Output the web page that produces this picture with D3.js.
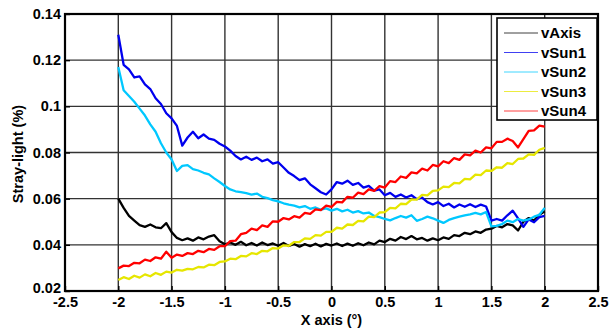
<!DOCTYPE html>
<html><head><meta charset="utf-8">
<script src="https://cdn.jsdelivr.net/npm/d3@7"></script>
<style>body{margin:0;background:#fff}svg{display:block}</style>
</head><body><svg id="c" width="613" height="332"></svg>
<script>
const xs = [-2.00,-1.95,-1.90,-1.85,-1.80,-1.75,-1.70,-1.65,-1.60,-1.55,-1.50,-1.45,-1.40,-1.35,-1.30,-1.25,-1.20,-1.15,-1.10,-1.05,-1.00,-0.95,-0.90,-0.85,-0.80,-0.75,-0.70,-0.65,-0.60,-0.55,-0.50,-0.45,-0.40,-0.35,-0.30,-0.25,-0.20,-0.15,-0.10,-0.05,0.00,0.05,0.10,0.15,0.20,0.25,0.30,0.35,0.40,0.45,0.50,0.55,0.60,0.65,0.70,0.75,0.80,0.85,0.90,0.95,1.00,1.05,1.10,1.15,1.20,1.25,1.30,1.35,1.40,1.45,1.50,1.55,1.60,1.65,1.70,1.75,1.80,1.85,1.90,1.95,2.00];
const vAxis = [0.0600,0.0560,0.0525,0.0505,0.0485,0.0478,0.0488,0.0476,0.0472,0.0494,0.0455,0.0430,0.0420,0.0428,0.0418,0.0432,0.0424,0.0436,0.0442,0.0415,0.0402,0.0410,0.0400,0.0413,0.0398,0.0408,0.0397,0.0410,0.0399,0.0406,0.0396,0.0408,0.0395,0.0404,0.0392,0.0403,0.0394,0.0405,0.0393,0.0404,0.0397,0.0406,0.0395,0.0405,0.0396,0.0407,0.0398,0.0410,0.0402,0.0418,0.0412,0.0426,0.0418,0.0434,0.0425,0.0438,0.0424,0.0430,0.0418,0.0428,0.0420,0.0432,0.0426,0.0442,0.0438,0.0452,0.0446,0.0458,0.0452,0.0466,0.0470,0.0482,0.0476,0.0490,0.0484,0.0462,0.0500,0.0516,0.0505,0.0530,0.0545];
const vSun1 = [0.1310,0.1180,0.1160,0.1125,0.1130,0.1095,0.1075,0.1035,0.1010,0.0970,0.0948,0.0915,0.0830,0.0865,0.0890,0.0862,0.0878,0.0860,0.0855,0.0838,0.0826,0.0808,0.0785,0.0770,0.0782,0.0768,0.0778,0.0762,0.0770,0.0752,0.0758,0.0735,0.0712,0.0698,0.0680,0.0688,0.0662,0.0645,0.0628,0.0618,0.0640,0.0672,0.0665,0.0678,0.0660,0.0668,0.0648,0.0655,0.0635,0.0640,0.0615,0.0625,0.0608,0.0618,0.0605,0.0615,0.0598,0.0605,0.0585,0.0575,0.0585,0.0568,0.0578,0.0562,0.0575,0.0565,0.0576,0.0564,0.0574,0.0566,0.0505,0.0512,0.0505,0.0528,0.0548,0.0515,0.0478,0.0510,0.0498,0.0520,0.0525];
const vSun2 = [0.1170,0.1070,0.1045,0.1020,0.0990,0.0960,0.0922,0.0890,0.0840,0.0800,0.0770,0.0720,0.0742,0.0745,0.0728,0.0722,0.0712,0.0705,0.0688,0.0672,0.0655,0.0640,0.0632,0.0628,0.0624,0.0618,0.0622,0.0608,0.0602,0.0594,0.0588,0.0580,0.0574,0.0570,0.0562,0.0568,0.0556,0.0562,0.0552,0.0558,0.0548,0.0556,0.0545,0.0552,0.0540,0.0546,0.0536,0.0540,0.0525,0.0520,0.0512,0.0506,0.0516,0.0525,0.0518,0.0528,0.0504,0.0512,0.0522,0.0515,0.0505,0.0495,0.0508,0.0516,0.0522,0.0528,0.0532,0.0538,0.0532,0.0542,0.0480,0.0482,0.0490,0.0505,0.0498,0.0512,0.0505,0.0510,0.0522,0.0530,0.0560];
const vSun3 = [0.0248,0.0260,0.0252,0.0266,0.0258,0.0272,0.0264,0.0278,0.0270,0.0284,0.0280,0.0292,0.0288,0.0296,0.0294,0.0304,0.0302,0.0314,0.0312,0.0326,0.0328,0.0340,0.0338,0.0352,0.0350,0.0364,0.0360,0.0374,0.0372,0.0386,0.0384,0.0398,0.0396,0.0412,0.0412,0.0428,0.0426,0.0442,0.0440,0.0456,0.0456,0.0474,0.0470,0.0488,0.0486,0.0504,0.0502,0.0522,0.0520,0.0540,0.0542,0.0560,0.0558,0.0578,0.0576,0.0596,0.0596,0.0616,0.0614,0.0634,0.0636,0.0652,0.0650,0.0668,0.0666,0.0686,0.0684,0.0704,0.0702,0.0722,0.0720,0.0736,0.0734,0.0754,0.0750,0.0772,0.0774,0.0792,0.0790,0.0812,0.0820];
const vSun4 = [0.0298,0.0310,0.0308,0.0322,0.0320,0.0336,0.0330,0.0346,0.0340,0.0370,0.0344,0.0358,0.0352,0.0364,0.0360,0.0374,0.0368,0.0382,0.0378,0.0394,0.0394,0.0416,0.0418,0.0446,0.0452,0.0470,0.0464,0.0484,0.0478,0.0502,0.0500,0.0516,0.0510,0.0524,0.0518,0.0538,0.0534,0.0554,0.0550,0.0570,0.0564,0.0586,0.0584,0.0608,0.0604,0.0626,0.0620,0.0640,0.0634,0.0654,0.0648,0.0676,0.0672,0.0696,0.0690,0.0714,0.0710,0.0730,0.0722,0.0746,0.0740,0.0762,0.0754,0.0776,0.0768,0.0792,0.0788,0.0808,0.0800,0.0822,0.0818,0.0846,0.0846,0.0860,0.0850,0.0822,0.0858,0.0894,0.0896,0.0916,0.0912];
const seriesNames = ["vAxis","vSun1","vSun2","vSun3","vSun4"];
const seriesColors = ["#000000","#0000ee","#00c8ff","#e6e600","#ff0000"];
const xTicks = [-2.5,-2,-1.5,-1,-0.5,0,0.5,1,1.5,2,2.5];
const yTicks = [0.02,0.04,0.06,0.08,0.1,0.12,0.14];

const series = [vAxis,vSun1,vSun2,vSun3,vSun4];
const L=65,T=14,R=598,B=291;
const FONT="'Liberation Sans', Arial, Helvetica, sans-serif";
const svg=d3.select("#c");
const x=d3.scaleLinear().domain([-2.5,2.5]).range([L,R]);
const y=d3.scaleLinear().domain([0.02,0.14]).range([B,T]);
const styleText=(s,sz)=>s.style("font-family",FONT).style("font-weight","bold").style("font-size",(sz||14.5)+"px").style("fill","#000");

svg.append("g").selectAll("line").data(xTicks).join("line")
 .attr("x1",d=>x(d)).attr("x2",d=>x(d)).attr("y1",T).attr("y2",B)
 .attr("stroke","#333").attr("stroke-width",1.4);
svg.append("g").selectAll("line").data(yTicks).join("line")
 .attr("y1",d=>y(d)).attr("y2",d=>y(d)).attr("x1",L).attr("x2",R)
 .attr("stroke","#333").attr("stroke-width",1.4);

const line=d3.line().x((d,i)=>x(xs[i])).y(d=>y(d));
series.forEach((s,k)=>{
 svg.append("path").datum(s).attr("d",line).attr("fill","none")
  .attr("stroke",seriesColors[k]).attr("stroke-width",2.3).attr("stroke-linejoin","round");
});

const xa=svg.append("g").attr("transform",`translate(0,${B})`)
 .call(d3.axisBottom(x).tickValues(xTicks).tickSize(-5).tickPadding(6).tickFormat(d=>String(d)));
const ya=svg.append("g").attr("transform",`translate(${L},0)`)
 .call(d3.axisLeft(y).tickValues(yTicks).tickSize(-5).tickPadding(4).tickFormat(d=>String(+d.toFixed(2))));
[xa,ya].forEach(a=>{
 a.select(".domain").remove();
 a.selectAll("text").call(styleText);
 a.selectAll("line").attr("stroke","#000").attr("stroke-width",1.4);
});
ya.selectAll(".tick").filter(d=>d===0.02).select("text").attr("dy","0.1em");
svg.append("rect").attr("x",L).attr("y",T).attr("width",R-L).attr("height",B-T)
 .attr("fill","none").attr("stroke","#000").attr("stroke-width",2.2);

svg.append("text").attr("x",(L+R)/2).attr("y",325).attr("text-anchor","middle")
 .text("X axis (°)").call(styleText);
svg.append("text").attr("transform",`translate(23,154) rotate(-90)`).attr("text-anchor","middle")
 .text("Stray-light (%)").call(styleText);

const lg=svg.append("g");
lg.append("rect").attr("x",497).attr("y",18).attr("width",100).attr("height",102)
 .attr("fill","#fff").attr("stroke","#000").attr("stroke-width",1.6);
seriesNames.forEach((n,k)=>{
 const yy=33+k*19.5;
 lg.append("line").attr("x1",504).attr("x2",538).attr("y1",yy).attr("y2",yy)
  .attr("stroke",seriesColors[k]).attr("stroke-width",1).attr("stroke-opacity",0.75);
 lg.append("text").attr("x",541).attr("y",yy+5).text(n).call(styleText,15);
});
</script></body></html>
